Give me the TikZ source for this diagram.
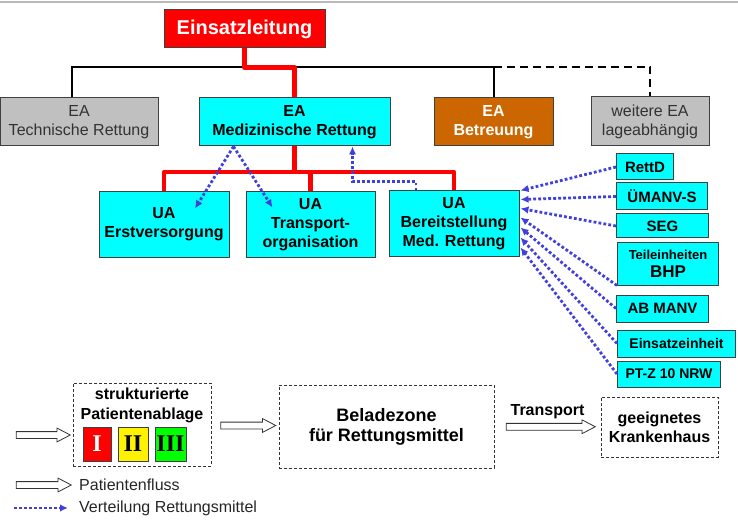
\documentclass[tikz,border=0pt]{standalone}
\usepackage{fontspec}
\setmainfont{Liberation Sans}
\newfontfamily\numeralfont{Liberation Serif}
\usetikzlibrary{shapes.arrows,arrows.meta,calc}
\definecolor{einsatzrot}{RGB}{255,0,0}
\definecolor{medcyan}{RGB}{0,255,255}
\definecolor{betrorange}{RGB}{204,102,0}
\definecolor{techgrau}{RGB}{192,192,192}
\definecolor{distblau}{RGB}{64,64,220}
\definecolor{okgruen}{RGB}{0,255,0}

\begin{document}
\begin{tikzpicture}[x=1pt, y=-1pt,
        box/.style={draw=black!75, line width=1pt, inner sep=0pt, align=center},
        medbox/.style={box, fill=medcyan, font=\fontsize{16}{19}\selectfont\bfseries},
        greybox/.style={box, fill=techgrau, text=black!80, font=\fontsize{16}{19}\selectfont},
        unitbox/.style={box, fill=medcyan, anchor=west, font=\fontsize{15}{18}\selectfont\bfseries},
        zonebox/.style={draw=black!80, line width=0.8pt, dash pattern=on 3pt off 2pt, inner sep=0pt, align=center, font=\fontsize{16}{19}\selectfont\bfseries},
        sortbox/.style={box, minimum height=34pt, font=\fontsize{24}{24}\selectfont\numeralfont\bfseries},
        orgline/.style={line width=2pt},
        medline/.style={line width=4.5pt, einsatzrot, line join=round},
        distarrow/.style={distblau, line width=2.8pt, dash pattern=on 2.8pt off 2.2pt, -{Latex[length=8pt,width=7.5pt]}},
        flowarrow/.style={draw=black!80, fill=white, line width=0.8pt, single arrow, single arrow head extend=3.5pt, single arrow tip angle=55, text height=3pt, text depth=3pt, inner sep=0pt}]
        \useasboundingbox (0,0) rectangle (738,521);
        \draw[gray!55, line width=2pt] (0,2) -- (738,2);
        \node[box, fill=einsatzrot, text=white, minimum width=161pt, minimum height=38pt, font=\fontsize{20}{24}\selectfont\bfseries] (lead) at (244.5,29) {Einsatzleitung};
        \node[greybox, minimum width=158pt, minimum height=48pt] (eaTech) at (79,122) {EA\\Technische Rettung};
        \node[medbox, minimum width=191pt, minimum height=48pt] (eaMed) at (294.5,122) {EA\\Medizinische Rettung};
        \node[box, fill=betrorange, text=white, minimum width=119pt, minimum height=48pt, font=\fontsize{16}{19}\selectfont\bfseries] (eaBetr) at (493.5,122) {EA\\Betreuung};
        \node[greybox, minimum width=118pt, minimum height=49pt] (eaMore) at (650,121.5) {weitere EA\\lageabhängig};
        \node[medbox, minimum width=130pt, minimum height=65pt] (uaErst) at (164,224.5) {UA\\Erstversorgung};
        \node[medbox, minimum width=129pt, minimum height=65pt] (uaTrans) at (310.5,224.5) {UA\\Transport-\\organisation};
        \node[medbox, minimum width=130pt, minimum height=65pt] (uaBereit) at (454,223.5) {UA\\Bereitstellung\\Med. Rettung};
        \node[unitbox, minimum width=57pt, minimum height=26pt] (rettd) at (616,167) {RettD};
        \node[unitbox, minimum width=91pt, minimum height=27pt] (umanv) at (616,196.5) {ÜMANV-S};
        \node[unitbox, minimum width=92pt, minimum height=24pt] (seg) at (616,226) {SEG};
        \node[unitbox, minimum width=101pt, minimum height=43pt] (teil) at (617,263.5) {{\fontsize{13}{15}\selectfont Teileinheiten}\\{\fontsize{17}{20}\selectfont BHP}};
        \node[unitbox, minimum width=92pt, minimum height=27pt] (abmanv) at (616,308.5) {AB MANV};
        \node[unitbox, minimum width=118pt, minimum height=27pt, font=\fontsize{14}{17}\selectfont\bfseries] (einheit) at (617,343.5) {Einsatzeinheit};
        \node[unitbox, minimum width=103pt, minimum height=26pt, font=\fontsize{14}{17}\selectfont\bfseries] (ptz) at (617,374) {PT-Z 10 NRW};
        \coordinate (eaBus) at (0,67);
        \coordinate (uaBus) at (0,172);
        \draw[orgline] ([xshift=-7pt]eaTech.north) |- (eaBetr.north |- eaBus) -- (eaBetr.north);
        \draw[orgline, dash pattern=on 8pt off 5pt] (eaBetr.north |- eaBus) -| (eaMore.north);
        \draw[medline] (lead.south) -- ++(0,19) -| (eaMed.north);
        \draw[medline] (eaMed.south) -- (eaMed.south |- uaBus);
        \draw[medline] (uaErst.north) |- (uaBereit.north |- uaBus) -- (uaBereit.north);
        \draw[medline] (uaTrans.north) -- (uaTrans.north |- uaBus);
        \coordinate (medOut) at ([xshift=-61pt]eaMed.south);
        \draw[distarrow] (medOut) -- ([shift={(31,-16)}]uaErst.center);
        \draw[distarrow] (medOut) -- ([shift={(-38,-17)}]uaTrans.center);
        \draw[distarrow] ([xshift=-38pt]uaBereit.north) -- ++(0,-9) -| ([xshift=58pt]eaMed.south);
        \foreach \src/\off in {rettd.west/0, umanv.west/9, seg.west/18, teil.south west/27, abmanv.west/37, einheit.west/47, ptz.west/57}
            \draw[distarrow] (\src) -- ([shift={(1,\off)}]uaBereit.north east);
        % Patientenfluss
        \node[zonebox, minimum width=138pt, minimum height=83pt] (ablage) at (142,424.5) {};
        \node[font=\fontsize{16}{20}\selectfont\bfseries, align=center, inner sep=0pt] (ablageText) at (142,405) {strukturierte\\Patientenablage};
        \node[sortbox, fill=einsatzrot, text=white, minimum width=28pt] (catI) at (97,444) {I};
        \node[sortbox, fill=yellow, minimum width=30pt] (catII) at (133,444) {II};
        \node[sortbox, fill=okgruen, minimum width=31pt] (catIII) at (170.5,444) {III};
        \node[zonebox, minimum width=215pt, minimum height=83pt, font=\fontsize{18}{20}\selectfont\bfseries] (belade) at (386.5,426.5) {Beladezone\\für Rettungsmittel};
        \node[zonebox, minimum width=117pt, minimum height=60pt] (kh) at (659.5,427) {geeignetes\\Krankenhaus};
        \node[flowarrow, minimum height=54pt] (inFlow) at (40,435) {};
        \node[flowarrow, minimum height=55pt] (toBelade) at ($(ablage.east)!0.5!(belade.west)$) {};
        \node[flowarrow, minimum height=89pt] (transport) at ($(belade.east)!0.5!(kh.west)$) {};
        \node[above=4pt, inner sep=0pt, font=\fontsize{16}{19}\selectfont\bfseries] (transportText) at (transport.north) {Transport};
        % Legende
        \node[flowarrow, minimum height=55pt] (legFlow) at (40.5,485) {};
        \node[anchor=west, inner sep=0pt, text=black!85, font=\fontsize{16}{19}\selectfont] (legFlowText) at (79,485) {Patientenfluss};
        \coordinate (legDistA) at (14,508);
        \coordinate (legDistB) at (68,508);
        \draw[distarrow] (legDistA) -- (legDistB);
        \node[anchor=west, inner sep=0pt, text=black!85, font=\fontsize{16}{19}\selectfont] (legDistText) at (79,508) {Verteilung Rettungsmittel};
\end{tikzpicture}
\end{document}
